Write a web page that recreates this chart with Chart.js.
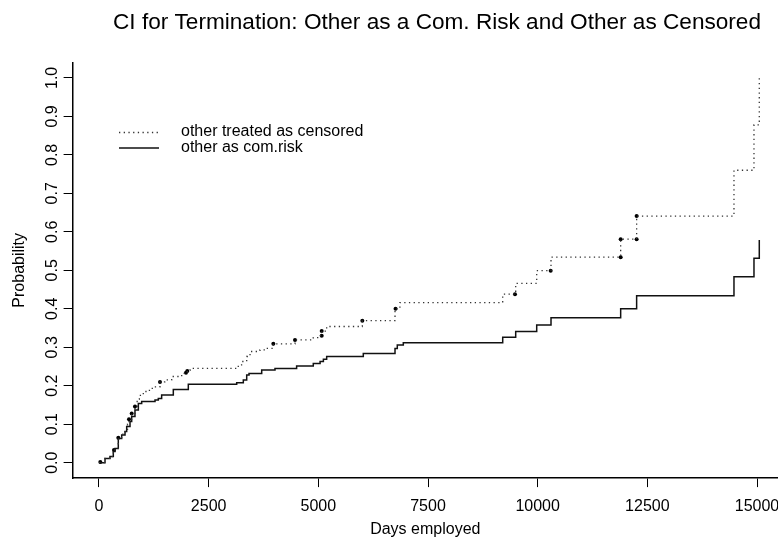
<!DOCTYPE html>
<html lang="en">
<head>
<meta charset="UTF-8">
<title>CI for Termination</title>
<script src="https://cdn.jsdelivr.net/npm/chart.js@4"></script>
<style>
  html, body { margin: 0; padding: 0; background: #fff; }
  canvas { display: block; }
</style>
</head>
<body>
<canvas id="ciChart" width="778" height="538"></canvas>
<script>
    // values (days, cumulative incidence)
    const chartTitle = 'CI for Termination: Other as a Com. Risk and Other as Censored';

    const censoredLabel = 'other treated as censored';
    const censoredDays = [0, 137, 250, 326, 365, 440, 517, 593, 650, 684, 745, 820, 870, 920, 1010, 1150, 1270, 1390, 1500, 1657, 1885, 1983, 2013, 2075, 3175, 3250, 3367, 3443, 3670, 3823, 3974, 4468, 4885, 5000, 5077, 5190, 6003, 6748, 6860, 9203, 9499, 9978, 10304, 11892, 12256, 14475, 14931, 15052];
    const censoredProb = [0, 0.011, 0.016, 0.029, 0.037, 0.065, 0.074, 0.084, 0.1, 0.113, 0.128, 0.146, 0.165, 0.175, 0.185, 0.193, 0.197, 0.21, 0.215, 0.224, 0.232, 0.236, 0.24, 0.245, 0.254, 0.263, 0.276, 0.289, 0.293, 0.297, 0.309, 0.319, 0.325, 0.33, 0.342, 0.354, 0.369, 0.4, 0.416, 0.438, 0.466, 0.499, 0.534, 0.581, 0.641, 0.76, 0.878, 1.0];

    const comRiskLabel = 'other as com.risk';
    const comRiskDays = [0, 137, 250, 326, 365, 440, 517, 593, 631, 707, 745, 820, 897, 973, 1277, 1352, 1428, 1694, 2036, 3139, 3290, 3367, 3420, 3709, 4012, 4505, 4885, 5040, 5115, 5190, 6025, 6748, 6800, 6937, 9203, 9499, 9978, 10304, 11892, 12256, 14475, 14931, 15052];
    const comRiskProb = [0, 0.011, 0.016, 0.029, 0.037, 0.063, 0.072, 0.081, 0.094, 0.107, 0.12, 0.137, 0.154, 0.159, 0.163, 0.167, 0.176, 0.19, 0.204, 0.208, 0.215, 0.228, 0.232, 0.241, 0.245, 0.251, 0.258, 0.263, 0.269, 0.276, 0.284, 0.297, 0.306, 0.312, 0.326, 0.341, 0.358, 0.377, 0.4, 0.434, 0.483, 0.531, 0.579];

    // points marked with a dot on the dotted curve
    const markDays = [30, 342, 440, 684, 745, 820, 1390, 1983, 2013, 3974, 4468, 5077, 5077, 6003, 6760, 9483, 10297, 11892, 11892, 12256, 12256];
    const markProb = [0.002, 0.033, 0.065, 0.113, 0.128, 0.146, 0.21, 0.234, 0.238, 0.309, 0.319, 0.33, 0.342, 0.369, 0.4, 0.438, 0.499, 0.534, 0.581, 0.581, 0.641];

    const xTickValues = [0, 2500, 5000, 7500, 10000, 12500, 15000];
    const yTickValues = [0, 0.1, 0.2, 0.3, 0.4, 0.5, 0.6, 0.7, 0.8, 0.9, 1.0];

    const FONT = "'Liberation Sans', Arial, Helvetica, sans-serif";
    Chart.defaults.font.family = FONT;
    Chart.defaults.color = '#000';

    const toPoints = (xs, ys) => xs.map((x, i) => ({ x: x, y: ys[i] }));

    // main title, centred over the plot like R does it
    const titlePlugin = {
        id: 'mainTitle',
        afterDraw(chart) {
            const ctx = chart.ctx;
            ctx.save();
            ctx.font = '22.6px ' + FONT;
            ctx.fillStyle = '#000';
            ctx.textAlign = 'center';
            ctx.textBaseline = 'middle';
            ctx.fillText(chartTitle, 437, 23);
            ctx.restore();
        }
    };

    // R-style legend inside the plot, no box
    const legendPlugin = {
        id: 'rLegend',
        afterDraw(chart) {
            const ctx = chart.ctx;
            const rows = [chart.data.datasets[0], chart.data.datasets[1]];
            ctx.save();
            ctx.font = '16px ' + FONT;
            ctx.textAlign = 'left';
            ctx.textBaseline = 'middle';
            rows.forEach((ds, i) => {
                const y = 132 + i * 15.5;
                ctx.beginPath();
                ctx.strokeStyle = ds.borderColor;
                ctx.lineWidth = ds.borderWidth;
                ctx.setLineDash(ds.borderDash || []);
                ctx.moveTo(119, y + 0.5);
                ctx.lineTo(159, y + 0.5);
                ctx.stroke();
                ctx.setLineDash([]);
                ctx.fillStyle = '#000';
                ctx.fillText(ds.label, 181, y);
            });
            ctx.restore();
        }
    };

    const ctx = document.getElementById('ciChart').getContext('2d');
    const ciChart = new Chart(ctx, {
        type: 'line',
        data: {
            datasets: [{
                label: censoredLabel,
                data: toPoints(censoredDays, censoredProb),
                stepped: 'before',
                borderColor: '#333',
                borderWidth: 1.3,
                borderDash: [1.3, 3.4],
                pointRadius: 0,
                fill: false
            }, {
                label: comRiskLabel,
                data: toPoints(comRiskDays, comRiskProb),
                stepped: 'before',
                borderColor: '#111',
                borderWidth: 1.5,
                pointRadius: 0,
                fill: false
            }, {
                type: 'scatter',
                label: 'marks',
                data: toPoints(markDays, markProb),
                showLine: false,
                pointRadius: 2,
                pointBorderWidth: 0,
                pointBackgroundColor: '#000'
            }]
        },
        options: {
            responsive: false,
            animation: false,
            layout: {
                autoPadding: false,
                padding: { top: 62.5, right: 0, bottom: 0, left: 0 }
            },
            plugins: {
                legend: { display: false },
                title: { display: false },
                tooltip: { enabled: false }
            },
            scales: {
                x: {
                    type: 'linear',
                    min: -601.8,
                    max: 15478.6,
                    afterBuildTicks: (scale) => { scale.ticks = xTickValues.map(v => ({ value: v })); },
                    afterFit: (scale) => {
                        scale.height = 59.9;
                        // plot runs to the right edge like the original
                        scale.paddingLeft = 0;
                        scale.paddingRight = 0;
                    },
                    ticks: {
                        padding: 10,
                        font: { size: 16 },
                        color: '#000',
                        maxRotation: 0,
                        callback: (v) => String(v)
                    },
                    grid: { display: true, drawOnChartArea: false, drawTicks: true, tickLength: 9, color: '#000', lineWidth: 1 },
                    border: { display: true, color: '#000', width: 1.5 },
                    title: {
                        display: true,
                        text: 'Days employed',
                        font: { size: 16, lineHeight: 1 },
                        padding: { top: 0, bottom: 0 }
                    }
                },
                y: {
                    type: 'linear',
                    min: -0.04,
                    max: 1.04,
                    afterBuildTicks: (scale) => { scale.ticks = yTickValues.map(v => ({ value: v })); },
                    afterFit: (scale) => {
                        scale.width = 72.6;
                        scale.paddingTop = 0;
                        scale.paddingBottom = 0;
                    },
                    ticks: {
                        padding: 0,
                        font: { size: 16 },
                        color: '#000',
                        minRotation: 90,
                        maxRotation: 90,
                        crossAlign: 'center',
                        callback: (v) => Number(v).toFixed(1)
                    },
                    grid: { display: true, drawOnChartArea: false, drawTicks: true, tickLength: 9, color: '#000', lineWidth: 1 },
                    border: { display: true, color: '#000', width: 1.5 },
                    title: {
                        display: true,
                        text: 'Probability',
                        font: { size: 16, lineHeight: 1 },
                        padding: { top: 12, bottom: 0 }
                    }
                }
            }
        },
        plugins: [titlePlugin, legendPlugin]
    });
</script>
</body>
</html>
